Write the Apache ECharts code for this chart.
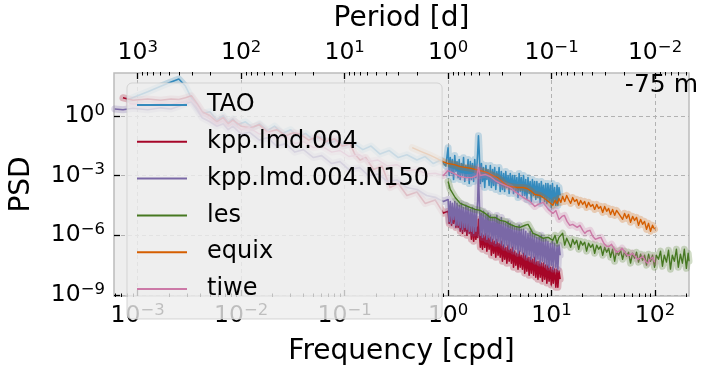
<!DOCTYPE html>
<html><head><meta charset="utf-8">
<script src="https://cdn.jsdelivr.net/npm/echarts@6/dist/echarts.min.js"></script>
<style>html,body{margin:0;padding:0;background:#fff}#c{width:705px;height:371px}</style>
</head><body><div id="c"></div>
<script>
// ---------- data (frequency [cpd], PSD) ----------
const seriesNames = ['TAO','kpp.lmd.004','kpp.lmd.004.N150','les','equix','tiwe'];
const seriesColors = ['#348ABD','#A60628','#7A68A6','#467821','#D55E00','#CC79A7'];

// shared frequency grid of the dense (f >= 1 cpd) part of TAO / kpp spectra
const denseFreq = [
 1.00,1.025,1.05,1.08,1.10,1.13,1.16,1.19,1.22,1.25,
 1.28,1.31,1.345,1.38,1.41,1.45,1.485,1.52,1.56,1.60,
 1.64,1.68,1.72,1.765,1.81,1.855,1.90,1.93,1.965,1.995,
 2.05,2.10,2.15,2.20,2.26,2.32,2.37,2.43,2.49,2.56,
 2.62,2.69,2.75,2.82,2.89,2.96,3.04,3.11,3.19,3.27,
 3.35,3.44,3.52,3.61,3.70,3.80,3.89,3.99,4.09,4.19,
 4.29,4.40,4.51,4.62,4.74,4.86,4.98,5.10,5.23,5.36,
 5.50,5.63,5.77,5.92,6.07,6.22,6.37,6.53,6.70,6.86,
 7.04,7.21,7.39,7.58,7.77,7.96,8.16,8.36,8.57,8.79,
 9.01,9.23,9.46,9.70,9.94,10.2,10.4,10.7,11.0,11.3,
 11.5,11.8,12.1
];

const taoLow = [
 [8.3e-4,7],[1.25e-3,16],[1.67e-3,30],[2.1e-3,50],[2.5e-3,70],[2.9e-3,30],[3.3e-3,8],[3.75e-3,2.5],[4.2e-3,1.3],[5e-3,1.6],
 [5.8e-3,0.6],[6.7e-3,1.0],[7.5e-3,0.45],[8.3e-3,0.7],[9.2e-3,0.35],[0.011,0.5],[0.013,0.25],[0.015,0.4],[0.018,0.18],[0.021,0.3],
 [0.025,0.13],[0.03,0.2],[0.035,0.09],[0.042,0.13],[0.05,0.06],[0.06,0.09],[0.07,0.04],[0.085,0.06],[0.1,0.03],[0.12,0.045],
 [0.15,0.02],[0.18,0.03],[0.22,0.012],[0.27,0.018],[0.33,0.008],[0.4,0.011],[0.5,0.006],[0.6,0.009],[0.72,0.004],[0.85,0.006],[0.95,0.003]
];
const taoDense = [
 2.5e-2,1.0e-3,7.9e-3,1.26e-3,6.3e-3,6.3e-4,1.0e-2,1.6e-3,5.0e-3,7.9e-4,
 6.3e-3,6.3e-4,4.0e-3,1.0e-3,7.9e-3,5.0e-4,3.2e-3,7.9e-4,6.3e-3,4.0e-4,
 5.0e-3,6.3e-4,4.0e-3,5.0e-4,6.3e-3,7.9e-4,3.2e-3,1.26e-2,0.1,2.0e-2,
 4.0e-4,4.0e-3,5.0e-4,2.5e-3,2.5e-4,3.2e-3,6.3e-4,2.0e-3,3.2e-4,3.2e-3,
 2.5e-4,2.0e-3,3.2e-4,2.5e-3,2.0e-4,1.6e-3,4.0e-4,2.5e-3,1.6e-4,1.6e-3,
 2.0e-4,1.26e-3,1.6e-4,1.6e-3,2.5e-4,1.0e-3,1.26e-4,1.26e-3,2.0e-4,1.0e-3,
 1.26e-4,1.0e-3,1.6e-4,7.9e-4,7.9e-5,1.26e-3,1.6e-4,7.9e-4,1.0e-4,1.0e-3,
 1.0e-4,6.3e-4,6.3e-5,7.9e-4,1.26e-4,5.0e-4,5.0e-5,6.3e-4,1.0e-4,5.0e-4,
 6.3e-5,5.0e-4,7.9e-5,4.0e-4,4.0e-5,5.0e-4,7.9e-5,3.2e-4,5.0e-5,4.0e-4,
 4.0e-5,4.0e-4,5.0e-5,3.2e-4,2.5e-5,4.0e-4,4.0e-5,2.5e-4,3.2e-5,3.2e-4,
 3.2e-5,2.5e-4,1.0e-4
];

const kppLow = [
 [7.2e-4,8],[9e-4,6],[1.25e-3,7],[1.67e-3,6],[2.1e-3,7],[2.5e-3,6.5],[2.9e-3,8],[3.3e-3,10],[3.75e-3,4],[4.2e-3,1.6],
 [5e-3,1.0],[5.8e-3,0.5],[6.7e-3,0.8],[7.5e-3,0.4],[8.3e-3,0.6],[0.01,0.3],[0.0123,0.25],[0.015,0.35],[0.018,0.15],[0.022,0.2],
 [0.027,0.1],[0.032,0.14],[0.037,0.12],[0.045,0.06],[0.055,0.09],[0.065,0.05],[0.08,0.07],[0.095,0.03],[0.113,0.04],[0.125,0.012],
 [0.141,0.006],[0.16,0.008],[0.19,0.002],[0.23,0.003],[0.275,2.5e-4],[0.33,4e-4],[0.4,1e-4],[0.5,1.5e-4],[0.6,4e-5],[0.75,6e-5],[0.9,1.3e-5]
];
const kppDense = [
 1.6e-5,4.0e-6,1.26e-5,3.2e-6,1.0e-5,4.0e-6,1.26e-5,2.5e-6,7.9e-6,2.5e-6,
 7.9e-6,1.6e-6,6.3e-6,1.26e-6,6.3e-6,1.6e-6,5.0e-6,1.0e-6,5.0e-6,1.26e-6,
 3.2e-6,6.3e-7,3.2e-6,5.0e-7,2.5e-6,6.3e-7,2.5e-6,7.9e-7,6.3e-6,2.0e-6,
 2.5e-7,1.26e-6,2.0e-7,1.0e-6,2.5e-7,1.26e-6,1.6e-7,1.0e-6,2.0e-7,7.9e-7,
 1.0e-7,6.3e-7,1.26e-7,5.0e-7,7.9e-8,6.3e-7,1.0e-7,4.0e-7,7.9e-8,5.0e-7,
 5.0e-8,3.2e-7,6.3e-8,2.5e-7,4.0e-8,3.2e-7,5.0e-8,2.0e-7,4.0e-8,2.5e-7,
 2.5e-8,1.6e-7,3.2e-8,1.26e-7,2.0e-8,1.6e-7,2.5e-8,1.0e-7,2.0e-8,1.26e-7,
 1.26e-8,1.0e-7,1.6e-8,7.9e-8,1.0e-8,7.9e-8,1.26e-8,6.3e-8,1.0e-8,7.9e-8,
 7.9e-9,5.0e-8,6.3e-9,5.0e-8,7.9e-9,4.0e-8,5.0e-9,4.0e-8,6.3e-9,3.2e-8,
 4.0e-9,3.2e-8,5.0e-9,2.5e-8,3.2e-9,2.5e-8,4.0e-9,2.0e-8,2.5e-9,2.0e-8,
 2.5e-9,1.6e-8,6.3e-9
];

const kppN150Low = [
 [6e-4,2.2],[7.2e-4,2.0],[9e-4,2.4],[1.25e-3,2.0],[1.67e-3,2.5],[2.1e-3,2.2],[2.5e-3,3.0],[2.9e-3,4.0],[3.3e-3,5.0],[3.75e-3,2.0],
 [4.2e-3,0.8],[5e-3,0.5],[5.8e-3,0.3],[6.7e-3,0.4],[7.5e-3,0.2],[8.3e-3,0.3],[0.01,0.12],[0.012,0.15],[0.015,0.06],[0.018,0.08],
 [0.022,0.03],[0.027,0.04],[0.033,0.015],[0.04,0.02],[0.05,0.008],[0.06,0.01],[0.075,0.004],[0.09,0.005],[0.11,0.002],[0.14,0.0025],
 [0.17,0.001],[0.21,0.0012],[0.26,5e-4],[0.32,6e-4],[0.4,2.5e-4],[0.5,2e-4],[0.62,1e-4],[0.75,8e-5],[0.9,5e-5]
];
const kppN150Dense = [
 6.3e-5,5.0e-6,5.0e-5,4.0e-6,4.0e-5,6.3e-6,5.0e-5,3.2e-6,4.0e-5,3.2e-6,
 3.2e-5,2.5e-6,4.0e-5,2.0e-6,2.5e-5,2.5e-6,3.2e-5,2.0e-6,2.5e-5,1.6e-6,
 2.0e-5,1.6e-6,2.5e-5,1.26e-6,2.0e-5,1.6e-6,1.6e-5,5.0e-5,1.6e-3,1.0e-4,
 1.0e-6,1.26e-5,7.9e-7,1.6e-5,1.0e-6,1.0e-5,6.3e-7,1.26e-5,7.9e-7,1.0e-5,
 5.0e-7,7.9e-6,6.3e-7,7.9e-6,4.0e-7,1.0e-5,5.0e-7,6.3e-6,4.0e-7,7.9e-6,
 3.2e-7,5.0e-6,2.5e-7,4.0e-6,3.2e-7,5.0e-6,2.0e-7,4.0e-6,2.5e-7,3.2e-6,
 1.6e-7,2.5e-6,2.0e-7,2.5e-6,1.26e-7,3.2e-6,1.6e-7,2.0e-6,1.26e-7,2.0e-6,
 1.0e-7,1.6e-6,7.9e-8,1.26e-6,1.0e-7,1.6e-6,6.3e-8,1.26e-6,7.9e-8,1.0e-6,
 5.0e-8,7.9e-7,6.3e-8,7.9e-7,4.0e-8,1.0e-6,5.0e-8,6.3e-7,4.0e-8,6.3e-7,
 3.2e-8,5.0e-7,2.5e-8,4.0e-7,3.2e-8,5.0e-7,2.0e-8,4.0e-7,2.5e-8,3.2e-7,
 2.0e-8,3.2e-7,1.0e-7
];

const lesData = [
 [1.00,5.0e-4],[1.05,2.0e-4],[1.17,7.9e-5],[1.31,4.0e-5],[1.46,3.2e-5],[1.63,2.5e-5],[1.82,2.0e-5],[2.04,1.78e-5],[2.28,1.26e-5],[2.55,7.9e-6],
 [2.85,7.9e-6],[3.18,5.6e-6],[3.55,5.0e-6],[3.97,3.55e-6],[4.44,2.8e-6],[4.96,2.5e-6],[5.54,3.2e-6],[5.93,3.55e-6],[6.62,1.26e-6],[7.4,1.0e-6],
 [8.3,7.1e-7],[9.3,7.9e-7],[10.3,5.6e-7],[10.8,1.0e-6],[11.3,4.0e-7],[11.8,7.9e-7],[12.3,6.3e-7],[12.8,1.26e-6],[13.4,3.2e-7],[14.0,7.1e-7],
 [14.6,4.5e-7],[15.3,2.5e-7],[16.0,6.3e-7],[16.7,3.55e-7],[17.5,5.6e-7],[18.3,2.0e-7],[19.1,5.0e-7],[20.0,3.2e-7],[20.9,4.5e-7],[21.8,1.6e-7],
 [22.8,4.0e-7],[23.9,2.5e-7],[25.0,3.55e-7],[26.1,1.26e-7],[27.3,3.2e-7],[28.5,2.0e-7],[29.8,2.8e-7],[31.2,1.0e-7],[32.6,2.5e-7],[34.1,1.41e-7],
 [35.6,2.24e-7],[37.2,7.9e-8],[38.9,2.0e-7],[40.7,5.0e-8],[42.5,1.6e-7],[44.5,1.0e-7],[46.5,1.78e-7],[48.6,6.3e-8],[50.8,1.6e-7],[53.1,8.9e-8],
 [55.5,1.41e-7],[58.0,4.0e-8],[60.7,1.26e-7],[63.4,7.1e-8],[66.3,1.41e-7],[69.3,4.5e-8],[72.5,1.12e-7],[75.8,5.6e-8],[79.2,1.0e-7],[82.8,3.2e-8],
 [86.6,1.12e-7],[90.5,5.0e-8],[94.6,1.0e-7],[98.9,2.5e-8],[103,1.0e-7],[108,6.3e-8],[113,1.6e-7],[118,2.8e-8],[123,1.0e-7],[129,4.5e-8],
 [135,1.78e-7],[141,2.0e-8],[147,1.0e-7],[154,5.0e-8],[161,2.0e-7],[168,2.5e-8],[176,1.12e-7],[184,4.0e-8],[192,2.0e-7],[201,2.2e-8],
 [209,1.26e-7],[213,5.0e-8]
];

const equixData = [
 [0.45,2.5e-2],[0.55,1.6e-2],[0.65,1.12e-2],[0.75,7.9e-3],[0.89,5.0e-3],[1.0,4.0e-3],[1.15,3.55e-3],[1.31,2.8e-3],[1.5,2.5e-3],[1.7,2.24e-3],
 [2.04,1.78e-3],[2.4,1.41e-3],[2.7,1.0e-3],[3.0,7.9e-4],[3.4,4.5e-4],[3.7,3.2e-4],[4.0,2.8e-4],[4.6,2.5e-4],[5.3,2.5e-4],[5.8,2.24e-4],
 [6.4,1.6e-4],[6.9,1.12e-4],[7.7,1.0e-4],[8.3,7.9e-5],[9.3,5.0e-5],[10.3,3.2e-5],[10.8,5.6e-5],[11.3,4.0e-5],[11.8,7.1e-5],[12.3,4.5e-5],
 [12.8,8.9e-5],[13.4,5.0e-5],[14.0,1.0e-4],[14.6,6.3e-5],[15.3,4.0e-5],[16.0,7.9e-5],[16.7,5.0e-5],[17.5,6.3e-5],[18.3,3.2e-5],[19.1,5.6e-5],
 [20.0,3.55e-5],[20.9,5.0e-5],[21.8,2.5e-5],[22.8,4.5e-5],[23.9,2.8e-5],[25.0,3.55e-5],[26.1,2.0e-5],[27.3,3.55e-5],[28.5,2.24e-5],[29.8,2.8e-5],
 [31.2,1.41e-5],[32.6,2.8e-5],[34.1,1.6e-5],[35.6,2.24e-5],[37.2,1.12e-5],[38.9,2.0e-5],[40.7,1.0e-5],[42.5,1.78e-5],[44.5,1.26e-5],[46.5,1.41e-5],
 [48.6,6.3e-6],[50.8,1.26e-5],[53.1,7.1e-6],[55.5,1.12e-5],[58.0,4.5e-6],[60.7,8.9e-6],[63.4,5.6e-6],[66.3,7.9e-6],[69.3,3.2e-6],[72.5,6.3e-6],
 [75.8,3.55e-6],[79.2,5.0e-6],[82.8,2.0e-6],[86.6,4.0e-6],[90.5,1.6e-6],[94.6,3.2e-6],[98.9,2.0e-6]
];

const tiweData = [
 [8.3e-4,4],[1.25e-3,3.5],[1.67e-3,4],[2.1e-3,3.8],[2.5e-3,4.5],[2.9e-3,5],[3.3e-3,6],[3.75e-3,3],[4.2e-3,1.2],[5e-3,0.7],
 [5.8e-3,0.4],[6.7e-3,0.55],[7.5e-3,0.3],[8.3e-3,0.4],[0.01,0.2],[0.012,0.25],[0.015,0.12],[0.018,0.15],[0.022,0.07],[0.027,0.09],
 [0.033,0.04],[0.04,0.05],[0.05,0.025],[0.06,0.03],[0.075,0.015],[0.09,0.018],[0.11,0.009],[0.14,0.011],[0.17,0.005],[0.21,0.006],
 [0.26,0.003],[0.32,0.0035],[0.4,0.0018],[0.5,0.002],[0.62,0.0012],[0.75,0.0013],[0.9,0.001],
 [1.0,1.78e-3],[1.15,1.26e-3],[1.31,8.9e-4],[1.5,7.9e-4],[1.7,7.9e-4],[1.9,1.0e-3],[1.97,2.5e-3],[2.04,1.0e-3],[2.3,1.12e-3],[2.55,8.9e-4],
 [2.85,5.6e-4],[3.2,4.0e-4],[3.55,3.2e-4],[4.0,2.5e-4],[4.4,1.6e-4],[5.0,1.0e-4],[5.5,7.1e-5],[6.2,5.0e-5],[6.9,2.8e-5],[7.4,3.55e-5],
 [8.3,4.5e-5],[9.3,2.0e-5],[10.3,1.26e-5],[11.0,1.78e-5],[11.8,6.3e-6],[12.6,8.9e-6],[13.3,1.0e-5],[14.1,5.0e-6],[15,3.16e-6],[16,3.55e-6],
 [17.7,2.5e-6],[18.8,3.16e-6],[20,1.78e-6],[21,1.26e-6],[22,1.6e-6],[23.5,1.78e-6],[25,8.9e-7],[26.5,6.3e-7],[28,7.1e-7],[30,7.9e-7],
 [32,4.0e-7],[34,2.8e-7],[36,2.8e-7],[38,3.55e-7],[40,2.24e-7],[42.5,1.41e-7],[45,1.6e-7],[48,2.24e-7],[51,1.41e-7],[54,1.0e-7],
 [57,1.0e-7],[60,1.26e-7],[64,8.9e-8],[68,6.3e-8],[72,7.1e-8],[76,8.9e-8],[81,5.0e-8],[85,4.0e-8],[90,6.3e-8],[95,7.9e-8],[99,4.5e-8]
];

// ---------- ticks ----------
const freqMajorTicks = [1e-3,1e-2,1e-1,1,10,100];
const freqMinorTicks = [6e-4,7e-4,8e-4,9e-4,2e-3,3e-3,4e-3,5e-3,6e-3,7e-3,8e-3,9e-3,0.02,0.03,0.04,0.05,0.06,0.07,0.08,0.09,
  0.2,0.3,0.4,0.5,0.6,0.7,0.8,0.9,2,3,4,5,6,7,8,9,20,30,40,50,60,70,80,90,200];
const periodMajorTicks = [1e3,1e2,1e1,1,0.1,0.01];
const periodMinorTicks = [0.005,0.006,0.007,0.008,0.009,0.02,0.03,0.04,0.05,0.06,0.07,0.08,0.09,0.2,0.3,0.4,0.5,0.6,0.7,0.8,0.9,
  2,3,4,5,6,7,8,9,20,30,40,50,60,70,80,90,200,300,400,500,600,700,800,900];
const psdTicks = [1e-9,1e-6,1e-3,1];

// ---------- assemble ----------
function joinDense(low, dense) {
  const out = low.slice();
  for (let i = 0; i < denseFreq.length && i < dense.length; i++) out.push([denseFreq[i], dense[i]]);
  return out;
}
const allData = [
  joinDense(taoLow, taoDense),
  joinDense(kppLow, kppDense),
  joinDense(kppN150Low, kppN150Dense),
  lesData, equixData, tiweData
];
const mainWidths = [1.6, 1.6, 1.6, 1.4, 1.4, 1.4];

const FMIN = 5.9e-4, FMAX = 213, PMIN = 9e-10, PMAX = 140;
const FONT = 'DejaVu Sans';
const richLabel = {
  b: {fontFamily: FONT, fontSize: 23.5, lineHeight: 28, color: '#000'},
  s: {fontFamily: FONT, fontSize: 16.5, lineHeight: 16, color: '#000', verticalAlign: 'top'}
};
function powLabel(v) {
  const e = Math.round(Math.log10(v));
  return '{b|10}{s|' + (e < 0 ? '\u2212' : '') + Math.abs(e) + '}';
}
const series = [];
seriesNames.forEach((name, i) => {
  series.push({
    name: name + ' band', type: 'line', data: allData[i], symbol: 'none', silent: true,
    xAxisIndex: 0, yAxisIndex: 0,
    lineStyle: {color: seriesColors[i], width: 7, opacity: 0.25, join: 'round', cap: 'round'},
    itemStyle: {color: seriesColors[i]}, z: 2
  });
  series.push({
    name: name, type: 'line', data: allData[i], symbol: 'none',
    xAxisIndex: 0, yAxisIndex: 0,
    lineStyle: {color: seriesColors[i], width: mainWidths[i], join: 'round'},
    itemStyle: {color: seriesColors[i]}, z: 2
  });
});

const gridRect = {left: 114, right: 16, top: 72, bottom: 74};
const tickStyle = {color: '#000', width: 1.3};
const option = {
  animation: false,
  backgroundColor: '#ffffff',
  textStyle: {fontFamily: FONT},
  grid: [
    Object.assign({show: true, backgroundColor: '#eeeeee', borderColor: '#bcbcbc', borderWidth: 1.5}, gridRect),
    Object.assign({show: false}, gridRect)
  ],
  xAxis: [
    {gridIndex: 0, type: 'log', position: 'bottom', min: FMIN, max: FMAX,
     axisLine: {show: false},
     axisTick: {show: true, inside: true, length: 6, lineStyle: tickStyle, customValues: freqMajorTicks},
     axisLabel: {customValues: freqMajorTicks, formatter: powLabel, rich: richLabel, margin: 6},
     splitLine: {show: true, lineStyle: {color: '#b2b2b2', width: 1, type: [4, 3]}},
     name: 'Frequency [cpd]', nameLocation: 'middle', nameGap: 42,
     nameTextStyle: {fontFamily: FONT, fontSize: 28, color: '#000'}},
    {gridIndex: 0, type: 'log', position: 'top', inverse: true, min: 1 / FMAX, max: 1 / FMIN,
     axisLine: {show: false},
     axisTick: {show: true, inside: true, length: 6, lineStyle: tickStyle, customValues: periodMajorTicks},
     axisLabel: {customValues: periodMajorTicks, formatter: powLabel, rich: richLabel, margin: 6},
     splitLine: {show: false},
     name: 'Period [d]', nameLocation: 'middle', nameGap: 40,
     nameTextStyle: {fontFamily: FONT, fontSize: 28, color: '#000'}},
    {gridIndex: 1, type: 'log', position: 'bottom', min: FMIN, max: FMAX,
     axisLine: {show: false}, axisLabel: {show: false}, splitLine: {show: false},
     axisTick: {show: true, inside: true, length: 3.5, lineStyle: {color: '#000', width: 1}, customValues: freqMinorTicks}},
    {gridIndex: 1, type: 'log', position: 'top', inverse: true, min: 1 / FMAX, max: 1 / FMIN,
     axisLine: {show: false}, axisLabel: {show: false}, splitLine: {show: false},
     axisTick: {show: true, inside: true, length: 3.5, lineStyle: {color: '#000', width: 1}, customValues: periodMinorTicks}}
  ],
  yAxis: [
    {gridIndex: 0, type: 'log', min: PMIN, max: PMAX,
     axisLine: {show: false},
     axisTick: {show: true, inside: true, length: 6, lineStyle: tickStyle, customValues: psdTicks},
     axisLabel: {customValues: psdTicks, formatter: powLabel, rich: richLabel, margin: 9},
     splitLine: {show: true, lineStyle: {color: '#b2b2b2', width: 1, type: [4, 3]}},
     name: 'PSD', nameLocation: 'middle', nameGap: 78, nameRotate: 90,
     nameTextStyle: {fontFamily: FONT, fontSize: 28, color: '#000'}},
    {gridIndex: 1, type: 'log', min: PMIN, max: PMAX, show: false}
  ],
  legend: {
    data: seriesNames, orient: 'vertical', left: 127, top: 83,
    padding: [7, 13, 15, 10], itemWidth: 50, itemHeight: 2, itemGap: 6.8, icon: 'rect',
    backgroundColor: 'rgba(238,238,238,0.8)', borderColor: 'rgba(204,204,204,0.8)', borderWidth: 1, borderRadius: 5,
    textStyle: {fontFamily: FONT, fontSize: 24, color: '#000', lineHeight: 30, padding: [0, 0, 0, 15]},
    selectedMode: false, z: 20
  },
  graphic: [
    {type: 'text', right: 7, top: 73, z: 30,
     style: {text: '-75 m', font: '25px "DejaVu Sans"', fill: '#000'}}
  ],
  series: series
};
const chart = echarts.init(document.getElementById('c'), null, {renderer: 'canvas'});
chart.setOption(option);
</script>
</body></html>
